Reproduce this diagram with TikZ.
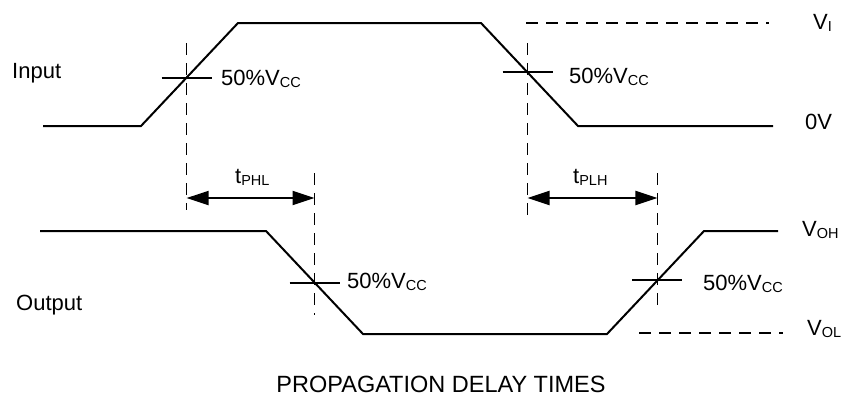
\documentclass[tikz,border=0pt]{standalone}
\usepackage{fontspec}
\setmainfont{Liberation Sans}
\usepackage{tikz}
\usetikzlibrary{arrows,arrows.meta,positioning,calc}
\newcommand{\subs}[1]{\raisebox{-0.2ex}{\fontsize{14.5}{14.5}\selectfont #1}}

\begin{document}
\begin{tikzpicture}[x=1pt, y=-1pt]
\tikzstyle{every node}=[font=\fontsize{22}{25}\selectfont, inner sep=0pt] %%
\tikzstyle{signal}=[line width=2pt, line join=miter]
\tikzstyle{guide}=[line width=1.8pt, dash pattern=on 12pt off 8pt]
\tikzstyle{delayarrow}=[line width=2pt, {Triangle[length=22pt,width=14pt]}-{Triangle[length=22pt,width=14pt]}]
\useasboundingbox (0,0) rectangle (845,397);
% input waveform
\coordinate (i0) at (43,126);
\coordinate (i1) at (141,126);
\coordinate (i2) at (238,23);
\coordinate (i3) at (481,23);
\coordinate (i4) at (578,126);
\coordinate (i5) at (773,126);
\draw[signal] (i0) -- (i1) -- (i2) -- (i3) -- (i4) -- (i5);
% output waveform
\coordinate (o0) at (40,231);
\coordinate (o1) at (266,231);
\coordinate (o2) at (363,334);
\coordinate (o3) at (607,334);
\coordinate (o4) at (704,231);
\coordinate (o5) at (778,231);
\draw[signal] (o0) -- (o1) -- (o2) -- (o3) -- (o4) -- (o5);
% 50% crossings
\coordinate (c1) at ($(i1)!0.47!(i2)$);
\coordinate (c2) at ($(i3)!0.48!(i4)$);
\coordinate (c3) at ($(o1)!0.5!(o2)$);
\coordinate (c4) at ($(o3)!0.52!(o4)$);
\foreach \c in {c1,c2,c3,c4}
  \draw[signal] (\c) ++(-25,0) -- ++(50,0);
% dashed guides
\coordinate (g1t) at (c1 |- 0,43);
\coordinate (g1b) at (c1 |- 0,210);
\coordinate (g2t) at (c2 |- 0,43);
\coordinate (g2b) at (c2 |- 0,222);
\coordinate (g3t) at (c3 |- 0,173);
\coordinate (g3b) at (c3 |- 0,315);
\coordinate (g4t) at (c4 |- 0,173);
\coordinate (g4b) at (c4 |- 0,308);
\draw[guide] (g1t) -- (g1b);
\draw[guide] (g2t) -- (g2b);
\draw[guide] (g3t) -- (g3b);
\draw[guide] (g4t) -- (g4b);
\coordinate (vit) at (526,23);
\coordinate (vie) at (769,23);
\draw[guide] (vit) -- (vie);
\coordinate (volt) at (639,333);
\coordinate (vole) at (783,333);
\draw[guide] (volt) -- (vole);
% delays
\coordinate (a1) at (c1 |- 0,198);
\coordinate (a2) at (c3 |- 0,198);
\coordinate (a3) at (c2 |- 0,198);
\coordinate (a4) at (c4 |- 0,198);
\draw[delayarrow] (a1) -- (a2);
\draw[delayarrow] (a3) -- (a4);
% labels
\node[anchor=base west] (input) at (12,78) {Input};
\node[anchor=base west] (output) at (16,310) {Output};
\node[anchor=base west] (l1) at (221,85) {50\%V\subs{CC}};
\node[anchor=base west] (l2) at (569,83) {50\%V\subs{CC}};
\node[anchor=base west] (l3) at (347,288) {50\%V\subs{CC}};
\node[anchor=base west] (l4) at (703,290) {50\%V\subs{CC}};
\node[anchor=base west] (tphl) at (235,183) {t\subs{PHL}};
\node[anchor=base west] (tplh) at (573,183) {t\subs{PLH}};
\node[anchor=base west] (vi) at (813,29) {V\subs{I}};
\node[anchor=base west] (zero) at (805,129) {0V};
\node[anchor=base west] (voh) at (802,236) {V\subs{OH}};
\node[anchor=base west] (vol) at (807,335) {V\subs{OL}};
\node[anchor=base, font=\fontsize{23.5}{26}\selectfont] (title) at (441,392) {PROPAGATION DELAY TIMES};
\end{tikzpicture}
\end{document}
